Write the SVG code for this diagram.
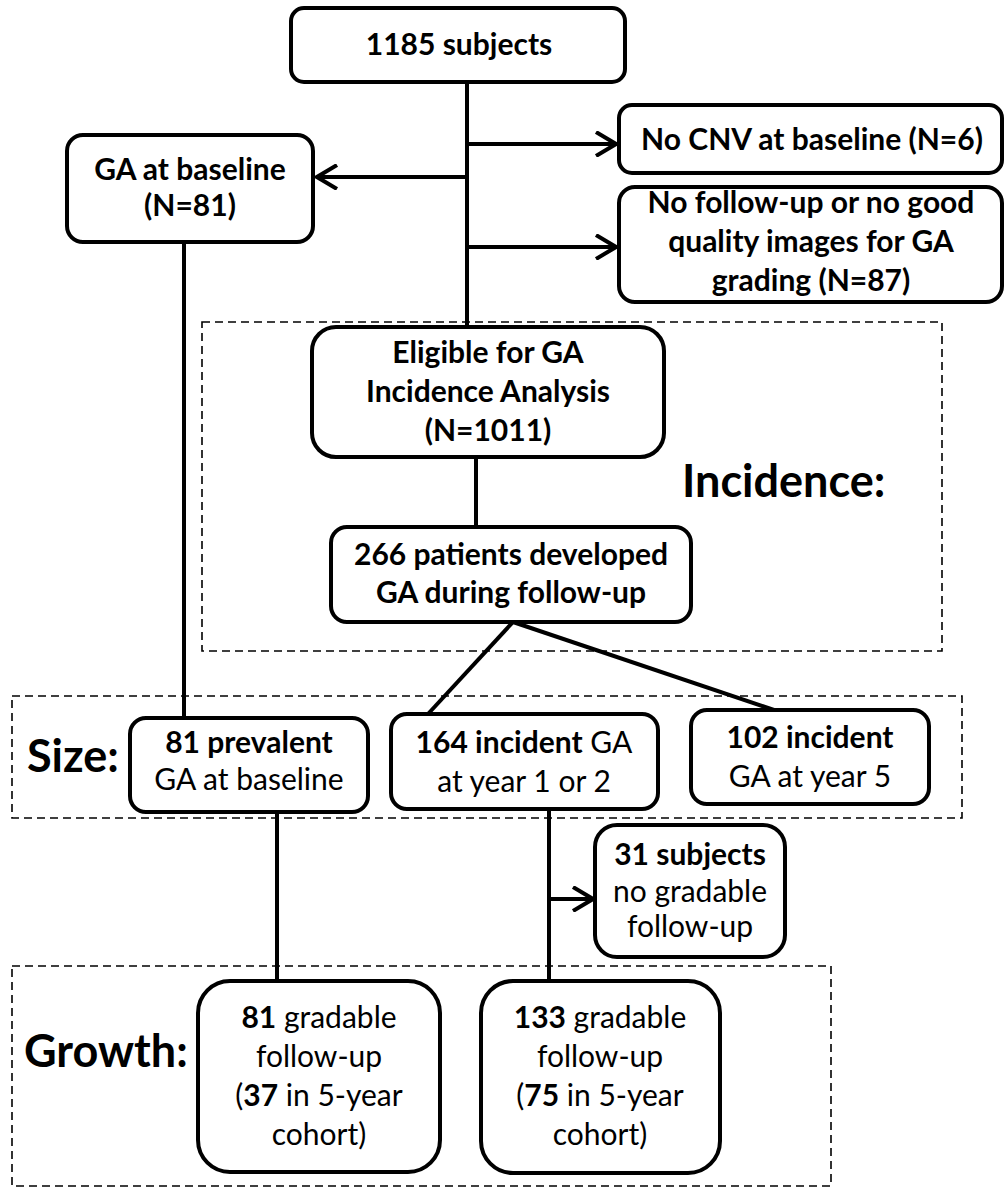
<svg xmlns="http://www.w3.org/2000/svg" width="1004" height="1191" viewBox="0 0 1004 1191">
<style>
.box{fill:#fff;stroke:#000;stroke-width:4}
.dash{fill:none;stroke:#000;stroke-width:1.6;stroke-dasharray:8 5}
.ln{fill:none;stroke:#000;stroke-width:4}
text{font-family:Lato,"Liberation Sans",sans-serif;font-size:30px;fill:#000;text-anchor:middle}
.b{font-weight:bold}
.lbl{font-weight:bold;font-size:45px;text-anchor:start}
</style>
<defs>
<marker id="ah" viewBox="0 0 24 26" markerWidth="24" markerHeight="26" refX="22" refY="13" orient="auto" markerUnits="userSpaceOnUse">
<path d="M2,1 L22,13 L2,25" fill="none" stroke="#000" stroke-width="4"/>
</marker>
</defs>
<rect width="1004" height="1191" fill="#fff"/>
<g id="regions">
<rect class="dash" x="202" y="322" width="740" height="329"/>
<rect class="dash" x="12" y="696" width="950" height="122"/>
<rect class="dash" x="12" y="966" width="819" height="220"/>
<text class="lbl" x="682" y="497">Incidence:</text>
<text class="lbl" x="27" y="772">Size:</text>
<text class="lbl" x="24" y="1067">Growth:</text>
</g>
<g id="connectors">
<line class="ln" x1="467" y1="82" x2="467" y2="327"/>
<path class="ln" d="M467,144 H616" marker-end="url(#ah)"/>
<path class="ln" d="M467,177 H317" marker-end="url(#ah)"/>
<path class="ln" d="M467,247 H616" marker-end="url(#ah)"/>
<line class="ln" x1="184" y1="242" x2="184" y2="718"/>
<line class="ln" x1="476" y1="457" x2="476" y2="527"/>
<line class="ln" x1="513" y1="622" x2="428" y2="714"/>
<line class="ln" x1="513" y1="622" x2="774" y2="710"/>
<line class="ln" x1="277" y1="812" x2="277" y2="981"/>
<line class="ln" x1="549" y1="809" x2="549" y2="981"/>
<path class="ln" d="M549,899 H593" marker-end="url(#ah)"/>
</g>
<g id="n1185">
<rect class="box" x="291" y="8" width="334" height="74" rx="13"/>
<text class="b" x="459" y="55">1185 subjects</text>
</g>
<g id="nNoCNV">
<rect class="box" x="619" y="105" width="383" height="68" rx="13"/>
<text class="b" x="812" y="150">No CNV at baseline (N=6)</text>
</g>
<g id="nGAbase">
<rect class="box" x="67" y="135" width="246" height="107" rx="16"/>
<text class="b" x="190" y="180">GA at baseline</text>
<text class="b" x="190" y="216">(N=81)</text>
</g>
<g id="nNoFU">
<rect class="box" x="619" y="187" width="383" height="115" rx="16"/>
<text class="b" x="811" y="213">No follow-up or no good</text>
<text class="b" x="811" y="252">quality images for GA</text>
<text class="b" x="811" y="291">grading (N=87)</text>
</g>
<g id="nEligible">
<rect class="box" x="312" y="327" width="352" height="130" rx="24"/>
<text class="b" x="488" y="363">Eligible for GA</text>
<text class="b" x="488" y="402">Incidence Analysis</text>
<text class="b" x="488" y="441">(N=1011)</text>
</g>
<g id="n266">
<rect class="box" x="331" y="527" width="360" height="95" rx="16"/>
<text class="b" x="511" y="565">266 patients developed</text>
<text class="b" x="511" y="603">GA during follow-up</text>
</g>
<g id="n81prev">
<rect class="box" x="130" y="718" width="238" height="94" rx="16"/>
<text class="b" x="249" y="753">81 prevalent</text>
<text x="249" y="790">GA at baseline</text>
</g>
<g id="n164">
<rect class="box" x="391" y="714" width="267" height="95" rx="16"/>
<text x="524" y="753"><tspan class="b">164 incident</tspan> GA</text>
<text x="524" y="792">at year 1 or 2</text>
</g>
<g id="n102">
<rect class="box" x="691" y="710" width="238" height="94" rx="16"/>
<text class="b" x="810" y="748">102 incident</text>
<text x="810" y="787">GA at year 5</text>
</g>
<g id="n31">
<rect class="box" x="595" y="825" width="190" height="132" rx="22"/>
<text class="b" x="690" y="865">31 subjects</text>
<text x="690" y="902">no gradable</text>
<text x="690" y="937">follow-up</text>
</g>
<g id="n81grad">
<rect class="box" x="198" y="981" width="242" height="191" rx="32"/>
<text x="319" y="1028"><tspan class="b">81</tspan> gradable</text>
<text x="319" y="1067">follow-up</text>
<text x="319" y="1106">(<tspan class="b">37</tspan> in 5-year</text>
<text x="319" y="1145">cohort)</text>
</g>
<g id="n133">
<rect class="box" x="481" y="981" width="239" height="192" rx="32"/>
<text x="600" y="1028"><tspan class="b">133</tspan> gradable</text>
<text x="600" y="1067">follow-up</text>
<text x="600" y="1106">(<tspan class="b">75</tspan> in 5-year</text>
<text x="600" y="1145">cohort)</text>
</g>
</svg>
